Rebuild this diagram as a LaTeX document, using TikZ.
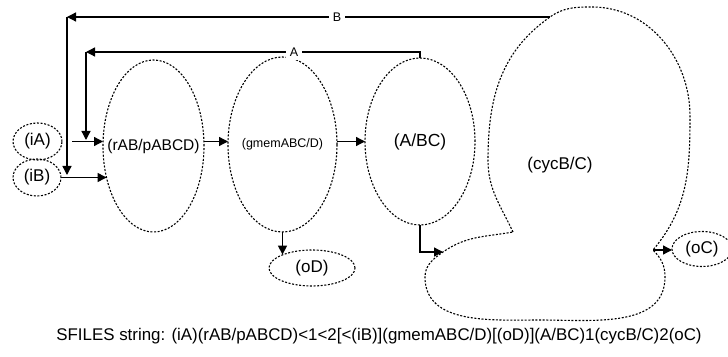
\documentclass[tikz,border=0pt]{standalone}
\usepackage{fontspec}
\setmainfont{Liberation Sans}
\usetikzlibrary{shapes.geometric,arrows.meta}
\begin{document}
\begin{tikzpicture}[x=1pt,y=1pt,
  unit/.style={ellipse, draw, line width=1.1pt, dash pattern=on 2pt off 1.6pt,
    inner sep=0pt, outer sep=0pt, font=\fontsize{17}{20}\selectfont},
  outline/.style={line width=1.1pt, dash pattern=on 2pt off 1.6pt},
  stream/.style={line width=1.3pt, -{Triangle[length=9pt,width=9pt]}},
  tag/.style={fill=white, inner sep=3.5pt, font=\fontsize{12.5}{14}\selectfont}]
\useasboundingbox (0,0) rectangle (728,356);

% inlets
\node[unit, minimum width=49pt, minimum height=37pt] (iA) at (37.5,214.5) {(iA)};
\node[unit, minimum width=48pt, minimum height=37pt] (iB) at (37,178.5) {(iB)};

% process units
\node[unit, minimum width=101pt, minimum height=172pt] (rAB) at (153.5,210)
  {\makebox[0pt]{\fontsize{15.5}{18}\selectfont(rAB/pABCD)}};
\node[unit, minimum width=109pt, minimum height=175pt] (gmem) at (282.5,211.5)
  {\makebox[0pt]{\fontsize{12.5}{15}\selectfont(gmemABC/D)}};
\node[unit, minimum width=110pt, minimum height=167pt] (ABC) at (420,214.5)
  {\makebox[0pt]{\fontsize{17.5}{20}\selectfont(A/BC)}};

% outlets
\node[unit, minimum width=86pt, minimum height=36pt] (oD) at (312,88) {(oD)};
\node[unit, minimum width=60pt, minimum height=35pt] (oC) at (702,107) {(oC)};

% cycle unit outline
\draw[outline] (513,124) coordinate (nL)
  to[out=115,in=270] (488,196)
  to[out=90,in=215] (550,339) coordinate (bStart)
  to[out=35,in=180] (592,349)
  to[out=0,in=90] (690,240)
  to[out=270,in=50] (653,106) coordinate (nR)
  to[out=-45,in=90] (665,79)
  to[out=270,in=0] (540,36)
  to[out=180,in=270] (425,79)
  to[out=90,in=215] (443,104) coordinate (aIn)
  to[out=35,in=190] (nL);
\node[font=\fontsize{17}{20}\selectfont] (cyc) at (560,191) {(cycB/C)};

% recycle corners and ends
\coordinate (aCorner) at (86,304);
\coordinate (aEnd) at (86,216);
\coordinate (bCorner) at (67,339);
\coordinate (bEnd) at (67,181);

% main streams
\draw[stream, shorten <=10pt] (iA.east) -- (iA.east -| rAB.west);
\draw[stream] (iB.east) -- (iB.east -| rAB.214);
\draw[stream] (rAB.east |- iA.east) -- (gmem.west |- iA.east);
\draw[stream] (gmem.east |- iA.east) -- (ABC.west |- iA.east);
\draw[stream] (gmem.south) -- (gmem.south |- oD.155);
\draw[stream] (ABC.south) |- (aIn);
\draw[stream] (nR) -- (nR -| oC.west);

% recycle A
\draw[stream] (ABC.north) -- (ABC.north |- aCorner)
  -- node[tag, pos=0.377] {A} (aCorner);
\draw[stream] (aCorner) -- (aEnd);

% recycle B
\draw[stream] (bStart) -- node[tag, pos=0.441] {B} (bCorner);
\draw[stream] (bCorner) -- (bEnd);

% caption
\node[anchor=base, inner sep=0pt, font=\fontsize{16.9}{20}\selectfont] (sfiles) at (379,16)
  {SFILES string: (iA)(rAB/pABCD)<1<2[<(iB)](gmemABC/D)[(oD)](A/BC)1(cycB/C)2(oC)};
\end{tikzpicture}
\end{document}
